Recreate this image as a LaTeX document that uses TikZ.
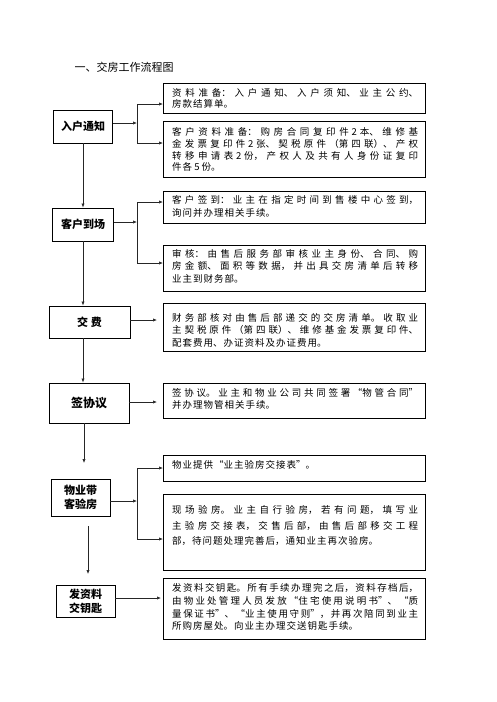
\documentclass[tikz,border=0pt]{standalone}
\usepackage{fontspec}
\setmainfont{Noto Sans CJK SC}
\usetikzlibrary{arrows.meta,calc}
\XeTeXlinebreaklocale "zh"
\XeTeXlinebreakskip=1pt plus 4pt minus 0.5pt
\begin{document}
\begin{tikzpicture}[x=1pt,y=-1pt,
  lbox/.style={draw=black, line width=0.9pt, align=center, inner sep=0pt,
    font=\bfseries\fontsize{11}{13.5}\selectfont},
  rbox/.style={draw=black, line width=0.8pt, anchor=north west, inner sep=0pt, minimum width=262pt},
  rtext/.style={anchor=north west, inner sep=0pt, text width=246pt, align=justify,
    font=\fontsize{9.5}{12.3}\selectfont},
  conn/.style={draw=black!85, line width=0.65pt},
  arr/.style={conn, -{Latex[length=4pt,width=3.2pt]}}]
\useasboundingbox (0,0) rectangle (496,702);
\fill[white] (0,0) rectangle (496,702);

\node[font=\fontsize{11}{13}\selectfont] (title) at (124,67) {一、交房工作流程图};

% left boxes
\node[lbox, minimum width=59pt, minimum height=33pt] (L1) at (83,126.5) {入户通知};
\node[lbox, minimum width=61pt, minimum height=33pt] (L2) at (83,224.5) {客户到场};
\node[lbox, minimum width=81pt, minimum height=32pt] (L3) at (89.5,322) {交\hspace{3pt}费};
\node[lbox, minimum width=80pt, minimum height=40pt, font=\bfseries\fontsize{12}{14}\selectfont] (L4) at (89,403) {签协议};
\node[lbox, minimum width=59pt, minimum height=37pt, font=\bfseries\fontsize{11}{13.7}\selectfont] (L5) at (80.5,497.5) {物业带\\客验房};
\node[lbox, minimum width=59pt, minimum height=32pt, font=\bfseries\fontsize{11}{14}\selectfont] (L6) at (85.5,601) {发资料\\交钥匙};

% right boxes
\node[rbox, minimum height=30pt] (A1) at (163,83) {};
\node[rbox, minimum height=56pt] (A2) at (163,121) {};
\node[rbox, minimum height=32pt] (B1) at (163,191) {};
\node[rbox, minimum height=46pt] (B2) at (163,245) {};
\node[rbox, minimum height=48pt] (C) at (163,303) {};
\node[rbox, minimum height=35pt] (D) at (163,383) {};
\node[rbox, minimum height=26pt] (E1) at (163,455) {};
\node[rbox, minimum height=76pt] (E2) at (163,494) {};
\node[rbox, minimum height=61pt] (F) at (163,578) {};

% texts
\node[rtext, font=\fontsize{9.5}{11.3}\selectfont] (tA1) at (172,88.3) {资料准备：入户通知、入户须知、业主公约、\break 房款结算单。};
\node[rtext, font=\fontsize{9.5}{11.8}\selectfont] (tA2) at (172,127.3) {客户资料准备：购房合同复印件 2 本、维修基\break 金发票复印件 2 张、契税原件（第四联）、产权\break 转移申请表 2 份，产权人及共有人身份证复印\break 件各 5 份。};
\node[rtext, font=\fontsize{9.5}{13}\selectfont] (tB1) at (172,195.1) {客户签到：业主在指定时间到售楼中心签到，\break 询问并办理相关手续。};
\node[rtext, font=\fontsize{9.5}{12.8}\selectfont] (tB2) at (172,248.9) {审核：由售后服务部审核业主身份、合同、购\break 房金额、面积等数据，并出具交房清单后转移\break 业主到财务部。};
\node[rtext] (tC) at (172,313.3) {财务部核对由售后部递交的交房清单。收取业\break 主契税原件（第四联）、维修基金发票复印件、\break 配套费用、办证资料及办证费用。};
\node[rtext] (tD) at (172,388.3) {签协议。业主和物业公司共同签署“物管合同”\break 并办理物管相关手续。};
\node[rtext] (tE1) at (172,460.6) {物业提供“业主验房交接表”。};
\node[rtext, font=\fontsize{9.5}{15.5}\selectfont] (tE2) at (172,505.6) {现场验房。业主自行验房，若有问题，填写业\break 主验房交接表，交售后部，由售后部移交工程\break 部，待问题处理完善后，通知业主再次验房。};
\node[rtext, font=\fontsize{9.5}{12.8}\selectfont] (tF) at (172,583.3) {发资料交钥匙。所有手续办理完之后，资料存档后，\break 由物业处管理人员发放“住宅使用说明书”、“质\break 量保证书”、“业主使用守则”，并再次陪同到业主\break 所购房屋处。向业主办理交送钥匙手续。};

% bracket coordinates
\coordinate (j1t) at (137,104);
\coordinate (j1m) at (137,123);
\coordinate (j1b) at (137,143);
\coordinate (j2t) at (137,202);
\coordinate (j2m) at (137,222);
\coordinate (j2b) at (137,263);
\coordinate (j3t) at (137,468);
\coordinate (j3m) at (137,501);
\coordinate (j3b) at (137,539);
\coordinate (cC) at (157,320);
\coordinate (cD) at (157,402);
\coordinate (cF) at (161,598);
\coordinate (k4) at (84,463);
\coordinate (k5) at (88,574);

% brackets
\draw[conn] (j1t) -- (j1b);
\draw[arr] (L1.east |- j1m) -- (j1m);
\draw[arr] (j1t) -- (j1t -| A1.west);
\draw[arr] (j1b) -- (j1b -| A2.west);

\draw[conn] (j2t) -- (j2b);
\draw[arr] (L2.east |- j2m) -- (j2m);
\draw[arr] (j2t) -- (j2t -| B1.west);
\draw[arr] (j2b) -- (j2b -| B2.west);

\draw[conn] (j3t) -- (j3b);
\draw[arr] (L5.east |- j3m) -- (j3m);
\draw[arr] (j3t) -- (j3t -| E1.west);
\draw[arr] (j3b) -- (j3b -| E2.west);

% straight arrows
\draw[arr] (L3.east |- cC) -- (cC);
\draw[arr] (L4.east |- cD) -- (cD);
\draw[arr] (L6.east |- cF) -- (cF);

% vertical flow
\draw[arr] (L1.south) -- (L2.north);
\draw[arr] (L2.south) -- (L2.south |- L3.north);
\draw[arr] (L3.south -| L2.south) -- (L2.south |- L4.north);
\draw[arr] (L4.south -| k4) -- (k4);
\draw[arr] ($(L5.south -| k5)+(0,10)$) -- (k5);
\end{tikzpicture}
\end{document}
